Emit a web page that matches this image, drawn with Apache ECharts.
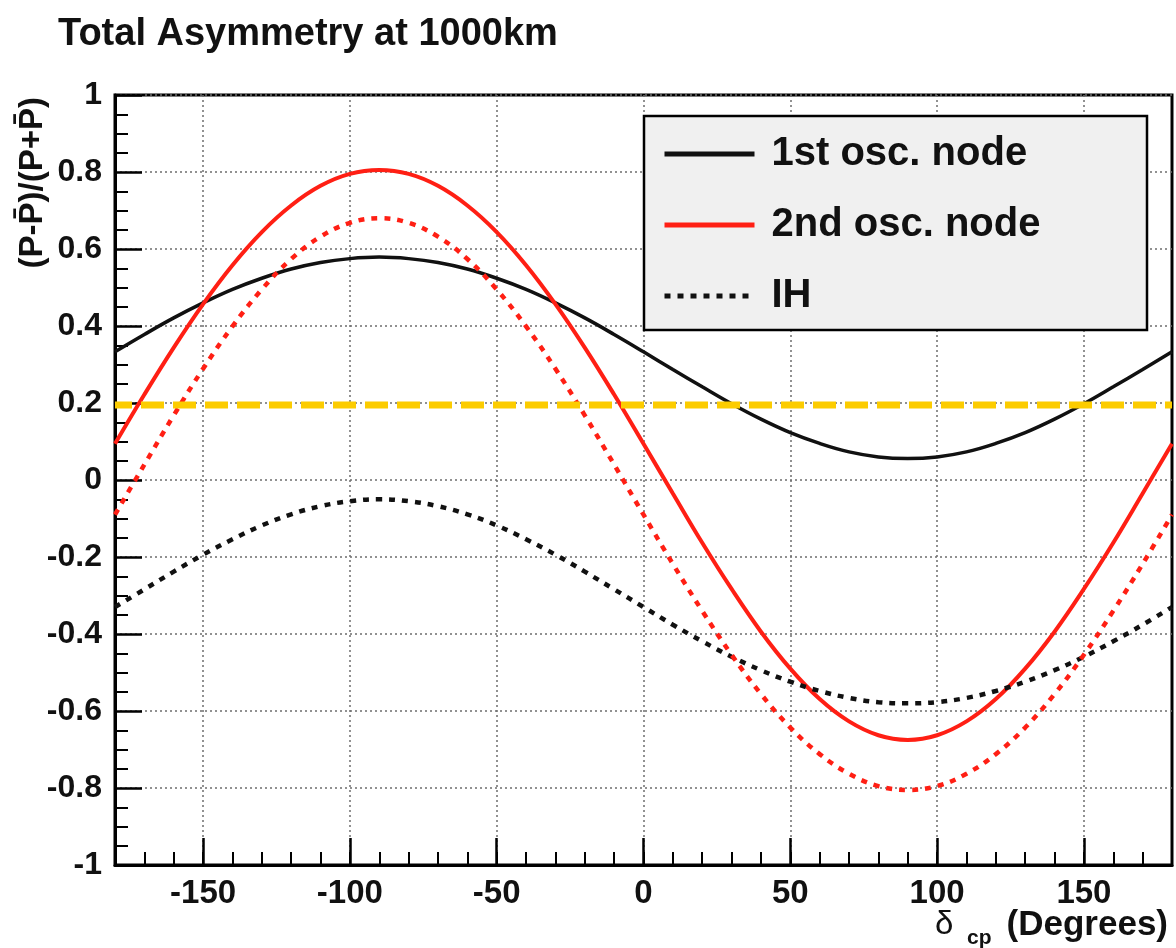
<!DOCTYPE html>
<html>
<head>
<meta charset="utf-8">
<script src="https://cdn.jsdelivr.net/npm/echarts@6/dist/echarts.min.js"></script>
<style>
  html, body { margin: 0; padding: 0; background: #ffffff; }
  #chart { width: 1176px; height: 948px; }
</style>
</head>
<body>
<div id="chart"></div>
<script>
// CP phase delta_cp in degrees, sampled every 10 degrees
const deltaCp = [-180, -170, -160, -150, -140, -130, -120, -110, -100, -90,
                 -80, -70, -60, -50, -40, -30, -20, -10, 0,
                 10, 20, 30, 40, 50, 60, 70, 80, 90,
                 100, 110, 120, 130, 140, 150, 160, 170, 180];

// Total asymmetry (P - Pbar)/(P + Pbar), normal hierarchy, 1st oscillation node
const firstNode = [0.333, 0.378, 0.421, 0.460, 0.495, 0.524, 0.548, 0.565, 0.575, 0.579,
                   0.575, 0.565, 0.548, 0.524, 0.495, 0.460, 0.421, 0.378, 0.333,
                   0.287, 0.242, 0.198, 0.158, 0.123, 0.095, 0.073, 0.060, 0.056,
                   0.060, 0.073, 0.095, 0.123, 0.158, 0.198, 0.242, 0.287, 0.333];

// Normal hierarchy, 2nd oscillation node
const secondNode = [0.094, 0.222, 0.344, 0.457, 0.558, 0.644, 0.713, 0.764, 0.795, 0.805,
                    0.795, 0.764, 0.713, 0.644, 0.558, 0.457, 0.344, 0.222, 0.094,
                    -0.035, -0.163, -0.283, -0.394, -0.490, -0.569, -0.627, -0.663, -0.675,
                    -0.663, -0.627, -0.569, -0.490, -0.394, -0.283, -0.163, -0.035, 0.094];

// Inverted hierarchy, 1st oscillation node
const ihFirstNode = [-0.330, -0.284, -0.238, -0.194, -0.154, -0.118, -0.089, -0.068, -0.055, -0.050,
                     -0.055, -0.068, -0.089, -0.118, -0.154, -0.194, -0.238, -0.284, -0.330,
                     -0.376, -0.419, -0.459, -0.494, -0.524, -0.548, -0.566, -0.577, -0.580,
                     -0.577, -0.566, -0.548, -0.524, -0.494, -0.459, -0.419, -0.376, -0.330];

// Inverted hierarchy, 2nd oscillation node
const ihSecondNode = [-0.090, 0.040, 0.168, 0.289, 0.399, 0.495, 0.574, 0.632, 0.668, 0.680,
                      0.668, 0.632, 0.574, 0.495, 0.399, 0.289, 0.168, 0.040, -0.090,
                      -0.218, -0.340, -0.454, -0.556, -0.643, -0.712, -0.763, -0.795, -0.805,
                      -0.795, -0.763, -0.712, -0.643, -0.556, -0.454, -0.340, -0.218, -0.090];

// Reference asymmetry level (dashed horizontal line)
const thresholdLevel = 0.195;

// Axis ranges and labelled ticks
const xRange = [-180, 180];
const xMajorTicks = [-150, -100, -50, 0, 50, 100, 150];
const yRange = [-1, 1];

const FONT = "'Liberation Sans', Arial, Helvetica, sans-serif";
const INK = '#111111';
const RED = '#ff1f14';

const toPairs = (ys) => deltaCp.map((d, i) => [d, ys[i]]);

const gridLine = { show: true, lineStyle: { color: '#6e6e6e', width: 1.5, type: [2, 3] } };

const chart = echarts.init(document.getElementById('chart'), null, { renderer: 'canvas' });

chart.setOption({
  animation: false,
  backgroundColor: '#ffffff',
  title: {
    text: 'Total Asymmetry at 1000km',
    left: 53,
    top: 11,
    textStyle: { fontFamily: FONT, fontSize: 38, fontWeight: 'bold', color: INK }
  },
  grid: {
    left: 115, right: 4, top: 95, bottom: 83,
    show: true, borderColor: '#000', borderWidth: 3, backgroundColor: 'transparent'
  },
  legend: {
    orient: 'vertical',
    left: 662,
    top: 132,
    itemWidth: 90,
    itemHeight: 14,
    itemGap: 27,
    padding: 0,
    selectedMode: false,
    z: 6,
    data: ['1st osc. node', '2nd osc. node', 'IH'],
    itemStyle: { opacity: 0 },
    lineStyle: { width: 5 },
    textStyle: {
      fontFamily: FONT, fontSize: 40, fontWeight: 'bold', color: INK,
      lineHeight: 44, padding: [0, 0, 0, 12]
    }
  },
  xAxis: [
    {
      // fine ticks every 10 degrees along the bottom edge
      type: 'value', min: xRange[0], max: xRange[1], interval: 10,
      axisLine: { show: true, onZero: false, lineStyle: { color: '#000', width: 3 } },
      axisTick: { show: true, inside: true, length: 13, lineStyle: { color: '#000', width: 2 } },
      axisLabel: { show: false },
      splitLine: { show: false }
    },
    {
      // labelled ticks every 50 degrees
      type: 'value', min: xRange[0], max: xRange[1], position: 'bottom',
      axisLine: { show: false, onZero: false },
      axisTick: { show: true, inside: true, length: 27, customValues: xMajorTicks,
                  lineStyle: { color: '#000', width: 2.5 } },
      axisLabel: {
        show: true, customValues: xMajorTicks, margin: 12,
        fontFamily: FONT, fontSize: 33, fontWeight: 'bold', color: INK
      },
      splitLine: gridLine
    }
  ],
  yAxis: {
    type: 'value', min: yRange[0], max: yRange[1], interval: 0.2,
    axisLine: { show: true, onZero: false, lineStyle: { color: '#000', width: 3 } },
    axisTick: { show: true, inside: true, length: 27, lineStyle: { color: '#000', width: 2.5 } },
    minorTick: { show: true, splitNumber: 4, length: 13, lineStyle: { color: '#000', width: 2 } },
    axisLabel: {
      margin: 13, fontFamily: FONT, fontSize: 32, fontWeight: 'bold', color: INK
    },
    splitLine: gridLine
  },
  series: [
    {
      name: '1st osc. node', type: 'line', xAxisIndex: 0,
      data: toPairs(firstNode), smooth: 0.4, showSymbol: false, symbol: 'none',
      lineStyle: { color: INK, width: 3.5 }, itemStyle: { color: INK }, z: 2
    },
    {
      name: '2nd osc. node', type: 'line', xAxisIndex: 0,
      data: toPairs(secondNode), smooth: 0.4, showSymbol: false, symbol: 'none',
      lineStyle: { color: RED, width: 4 }, itemStyle: { color: RED }, z: 2
    },
    {
      name: 'IH', type: 'line', xAxisIndex: 0,
      data: toPairs(ihFirstNode), smooth: 0.4, showSymbol: false, symbol: 'none',
      lineStyle: { color: INK, width: 4.5, type: [6, 7] }, itemStyle: { color: INK }, z: 2
    },
    {
      name: 'IH 2nd osc. node', type: 'line', xAxisIndex: 0,
      data: toPairs(ihSecondNode), smooth: 0.4, showSymbol: false, symbol: 'none',
      lineStyle: { color: RED, width: 4.5, type: [6, 7] }, itemStyle: { color: RED }, z: 2
    },
    {
      name: 'threshold', type: 'line', xAxisIndex: 0,
      data: xRange.map((x) => [x, thresholdLevel]), showSymbol: false, symbol: 'none',
      silent: true,
      lineStyle: { color: '#fccc00', width: 7, type: [23, 9], dashOffset: 6 }, z: 3
    }
  ],
  graphic: [
    {
      // legend frame
      type: 'rect', z: 5, silent: true,
      shape: { x: 644, y: 116, width: 503, height: 214 },
      style: { fill: '#f0f0f0', stroke: '#000', lineWidth: 2.5 }
    },
    {
      // y-axis title, reading bottom to top
      type: 'text', z: 5, silent: true,
      x: 33, y: 97, rotation: Math.PI / 2,
      style: {
        text: '(P-P\u0304)/(P+P\u0304)',
        fontFamily: FONT, fontSize: 33, fontWeight: 'bold', fill: INK,
        align: 'right', verticalAlign: 'middle'
      }
    },
    {
      type: 'text', z: 5, silent: true, x: 935, y: 941,
      style: { text: '\u03b4', fontFamily: FONT, fontSize: 33, fill: INK,
               align: 'left', verticalAlign: 'bottom' }
    },
    {
      type: 'text', z: 5, silent: true, x: 967, y: 949,
      style: { text: 'cp', fontFamily: FONT, fontSize: 21, fontWeight: 'bold', fill: INK,
               align: 'left', verticalAlign: 'bottom' }
    },
    {
      type: 'text', z: 5, silent: true, x: 1168, y: 943,
      style: { text: '(Degrees)', fontFamily: FONT, fontSize: 35, fontWeight: 'bold', fill: INK,
               align: 'right', verticalAlign: 'bottom' }
    }
  ]
});
</script>
</body>
</html>
